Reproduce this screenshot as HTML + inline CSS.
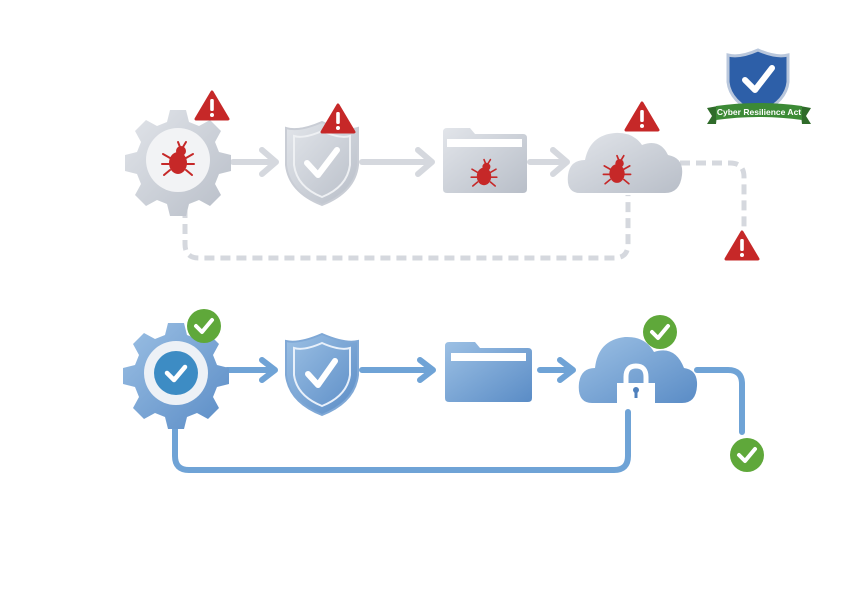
<!DOCTYPE html>
<html><head><meta charset="utf-8"><style>html,body{margin:0;padding:0;background:#fff}svg{display:block}</style></head>
<body>
<svg width="845" height="592" viewBox="0 0 845 592" xmlns="http://www.w3.org/2000/svg" font-family="Liberation Sans, sans-serif">
<defs>
<linearGradient id="gb" x1="0" y1="0" x2="1" y2="1"><stop offset="0" stop-color="#9cc0e4"/><stop offset="1" stop-color="#5a8cc6"/></linearGradient>
<linearGradient id="gg" x1="0" y1="0" x2="1" y2="1"><stop offset="0" stop-color="#e2e5ea"/><stop offset="1" stop-color="#b8bec8"/></linearGradient>
<g id="bug" fill="#c62828" stroke="#c62828" stroke-linecap="round">
<ellipse cx="0" cy="3" rx="9" ry="11" stroke="none"/><circle cx="3" cy="-9" r="5" stroke="none"/>
<path d="M-8 -2 L-15 -6 M-9 4 L-16 4 M-8 10 L-14 15 M8 -2 L15 -6 M9 4 L16 4 M8 10 L14 15 M2 -13 L0 -18 M5 -13 L8 -18" stroke-width="2" fill="none"/>
</g>
<g id="warn"><path d="M0 -15 L16 12 L-16 12 Z" fill="#c62828" stroke="#c62828" stroke-width="3" stroke-linejoin="round"/><rect x="-1.8" y="-8" width="3.6" height="12" rx="1.5" fill="#fff"/><circle cx="0" cy="8" r="2" fill="#fff"/></g>
<g id="ok"><circle r="17" fill="#5fa83a"/><path d="M-8 0 L-2 6 L8 -6" stroke="#fff" stroke-width="4" fill="none" stroke-linecap="round" stroke-linejoin="round"/></g>
<path id="gear" d="M-8 -50 h16 l3 12 l10 4 l11 -6 l11 11 l-6 11 l4 10 l12 3 v16 l-12 3 l-4 10 l6 11 l-11 11 l-11 -6 l-10 4 l-3 12 h-16 l-3 -12 l-10 -4 l-11 6 l-11 -11 l6 -11 l-4 -10 l-12 -3 v-16 l12 -3 l4 -10 l-6 -11 l11 -11 l11 6 l10 -4 z"/>
</defs>

<!-- TOP ROW -->
<g stroke="#d5d8de" stroke-width="5" fill="none" stroke-dasharray="10 6">
<path d="M185 208 V244 Q185 258 199 258 H614 Q628 258 628 244 V195"/>
<path d="M680 163 H730 Q744 163 744 177 V230"/>
</g>
<g stroke="#d5d8de" stroke-width="6" fill="none" stroke-linecap="round" stroke-linejoin="round">
<path d="M233 162 H275 M262 150 L276 162 L262 174"/>
<path d="M362 162 H430 M418 150 L432 162 L418 174"/>
<path d="M530 162 H565 M553 150 L567 162 L553 174"/>
</g>
<g transform="translate(178,160)"><use href="#gear" fill="url(#gg)"/><circle r="32" fill="#f2f3f5"/><use href="#bug"/></g>
<use href="#warn" x="212" y="107"/>
<path d="M322 122 Q345 132 358 128 V165 Q355 192 322 205 Q289 192 286 165 V128 Q299 132 322 122 Z" fill="url(#gg)" stroke="#c9cdd5" stroke-width="2"/>
<path d="M322 131 Q340 139 350 136 V165 Q347 187 322 197 Q297 187 294 165 V136 Q304 139 322 131 Z" fill="none" stroke="#eef0f3" stroke-width="2"/>
<path d="M307 163 L318 175 L337 150" stroke="#fff" stroke-width="6" fill="none" stroke-linecap="round" stroke-linejoin="round"/>
<use href="#warn" x="338" y="120"/>
<path d="M443 132 Q443 128 447 128 H470 L475 134 H523 Q527 134 527 138 V189 Q527 193 523 193 H447 Q443 193 443 189 Z" fill="url(#gg)"/>
<rect x="447" y="139" width="75" height="8" fill="#fff"/>
<use href="#bug" transform="translate(484,174) scale(0.8)"/>
<path d="M580 193 Q566 193 568 175 Q570 160 585 160 Q590 135 615 133 Q633 132 642 145 Q660 138 668 155 Q684 158 682 175 Q680 193 665 193 Z" fill="url(#gg)"/>
<use href="#bug" transform="translate(617,171) scale(0.85)"/>
<use href="#warn" x="642" y="118"/>
<use href="#warn" x="742" y="247"/>

<!-- BADGE -->
<path d="M758 50 Q776 58 788 55 V82 Q786 102 758 114 Q730 102 728 82 V55 Q740 58 758 50 Z" fill="#2d5fa8" stroke="#b9c7dc" stroke-width="3"/>
<path d="M745 80 L755 90 L772 68" stroke="#fff" stroke-width="6" fill="none" stroke-linecap="round" stroke-linejoin="round"/>
<path d="M707 108 L718 106 L716 124 L707 124 L712 116 Z M811 108 L800 106 L802 124 L811 124 L806 116 Z" fill="#2f6b2a"/>
<path d="M716 106 Q758 100 802 106 L802 120 Q758 114 716 120 Z" fill="#3c8a36"/>
<text x="759" y="115" font-size="8.5" font-weight="bold" fill="#fff" text-anchor="middle">Cyber Resilience Act</text>

<!-- BOTTOM ROW -->
<g stroke="#6fa3d6" stroke-width="6" fill="none" stroke-linecap="round" stroke-linejoin="round">
<path d="M175 423 V456 Q175 470 189 470 H614 Q628 470 628 456 V412"/>
<path d="M697 370 H728 Q742 370 742 384 V432"/>
<path d="M227 370 H273 M262 360 L275 370 L262 380"/>
<path d="M362 370 H430 M420 360 L433 370 L420 380"/>
<path d="M540 370 H570 M560 360 L573 370 L560 380"/>
</g>
<g transform="translate(176,373)"><use href="#gear" fill="url(#gb)"/><circle r="32" fill="#edf1f6"/><circle r="22" fill="#3d8cc4"/><path d="M-9 0 L-2 7 L9 -6" stroke="#fff" stroke-width="4.5" fill="none" stroke-linecap="round" stroke-linejoin="round"/></g>
<use href="#ok" x="204" y="326"/>
<path d="M322 334 Q345 344 358 341 V375 Q355 402 322 415 Q289 402 286 375 V341 Q299 344 322 334 Z" fill="url(#gb)" stroke="#7fa8d6" stroke-width="2"/>
<path d="M322 343 Q340 351 350 348 V375 Q347 396 322 406 Q297 396 294 375 V348 Q304 351 322 343 Z" fill="none" stroke="#e8f0fa" stroke-width="2"/>
<path d="M308 374 L318 385 L335 361" stroke="#fff" stroke-width="6" fill="none" stroke-linecap="round" stroke-linejoin="round"/>
<path d="M445 346 Q445 342 449 342 H475 L480 348 H528 Q532 348 532 352 V398 Q532 402 528 402 H449 Q445 402 445 398 Z" fill="url(#gb)"/>
<rect x="451" y="353" width="75" height="8" fill="#fff"/>
<path d="M592 403 Q577 403 579 383 Q581 368 595 368 Q598 340 625 337 Q645 336 654 352 Q675 345 684 368 Q698 370 697 386 Q696 403 682 403 Z" fill="url(#gb)"/>
<path d="M626 385 V377 Q626 366 636 366 Q646 366 646 377 V385" stroke="#fff" stroke-width="5" fill="none"/>
<rect x="617" y="383" width="38" height="20" fill="#fff"/>
<circle cx="636" cy="390" r="3" fill="#4f80bc"/><rect x="634.5" y="390" width="3" height="8" fill="#4f80bc"/>
<use href="#ok" x="660" y="332"/>
<use href="#ok" x="747" y="455"/>
</svg>
</body></html>
